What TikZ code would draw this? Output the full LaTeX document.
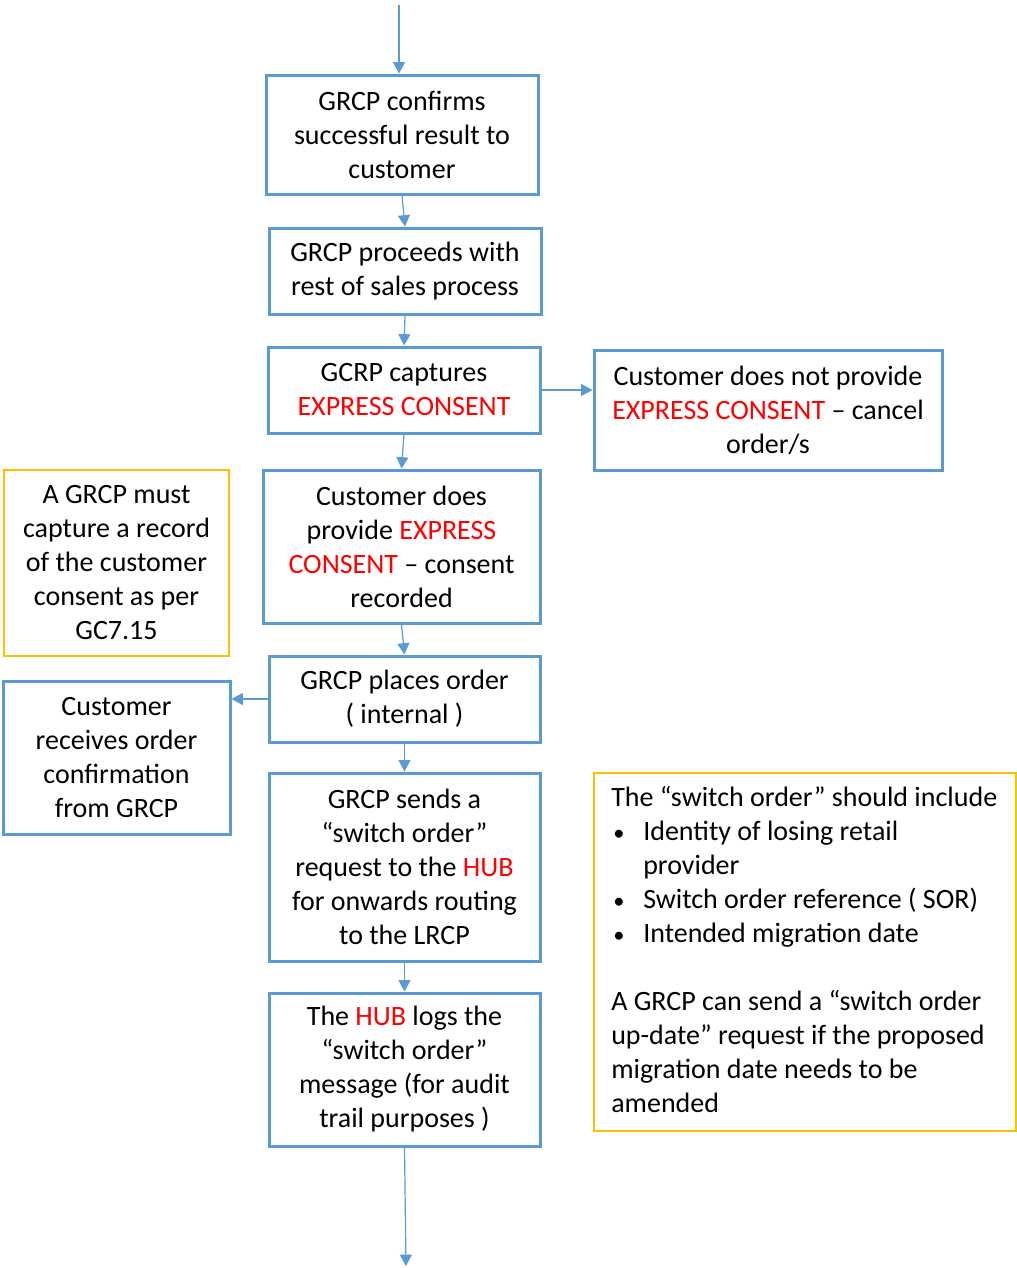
\documentclass[tikz,border=0pt]{standalone}
\usepackage{fontspec}
\setmainfont{Carlito}
\usetikzlibrary{arrows.meta}
\definecolor{flowblue}{HTML}{5B9BD5}
\definecolor{noteyellow}{HTML}{FFC000}
\definecolor{hilite}{HTML}{FF0000}
\newcommand{\hl}[1]{\textcolor{hilite}{#1}}
\newcommand{\blt}{\makebox[24pt][l]{\hspace{1.5pt}\scalebox{0.8}{•}}}
\tikzset{
  every node/.style={font=\fontsize{21}{25.5}\selectfont, inner sep=0pt, align=center},
  stepbox/.style={draw=flowblue, line width=2.25pt, rectangle},
  notebox/.style={draw=noteyellow, line width=1.1pt, rectangle},
  flow/.style={draw=flowblue, line width=0.9pt, -{Triangle[width=9pt,length=8.5pt]}}
}
\begin{document}
\begin{tikzpicture}[x=0.75pt, y=-0.75pt]
\useasboundingbox (0,0) rectangle (1017,1268);

% main column
\node[stepbox, minimum width=272*0.75pt, minimum height=119*0.75pt] (b1) at (402,134.5)
  {GRCP confirms\\successful result to\\customer};
\node[stepbox, minimum width=272*0.75pt, minimum height=86*0.75pt] (b2) at (405,271)
  {GRCP proceeds with\\rest of sales process};
\node[stepbox, minimum width=272*0.75pt, minimum height=86*0.75pt] (b3) at (404,390)
  {GCRP captures\\\hl{EXPRESS CONSENT}};
\node[stepbox, minimum width=277*0.75pt, minimum height=153*0.75pt] (b4) at (401.5,546.5)
  {Customer does\\provide \hl{EXPRESS}\\\hl{CONSENT} -- consent\\recorded};
\node[stepbox, minimum width=271*0.75pt, minimum height=86*0.75pt] (b5) at (404.5,699)
  {GRCP places order\\( internal )};
\node[stepbox, minimum width=271*0.75pt, minimum height=188*0.75pt] (b6) at (404.5,867)
  {GRCP sends a\\“switch order”\\request to the \hl{HUB}\\for onwards routing\\to the LRCP};
\node[stepbox, minimum width=271*0.75pt, minimum height=153*0.75pt] (b7) at (404.5,1069.5)
  {The \hl{HUB} logs the\\“switch order”\\message (for audit\\trail purposes )};

% side boxes
\node[stepbox, minimum width=348*0.75pt, minimum height=120*0.75pt] (nc) at (768,410)
  {Customer does not provide\\\hl{EXPRESS CONSENT} -- cancel\\order/s};
\node[notebox, minimum width=225*0.75pt, minimum height=186*0.75pt] (rec) at (116.5,563)
  {A GRCP must\\capture a record\\of the customer\\consent as per\\GC7.15};
\node[stepbox, minimum width=227*0.75pt, minimum height=153*0.75pt] (conf) at (116.5,757.5)
  {Customer\\receives order\\confirmation\\from GRCP};
\node[notebox, minimum width=422*0.75pt, minimum height=358*0.75pt] (inc) at (805,952) {};
\node[anchor=north west, align=left] (inctext) at (611,786)
  {The “switch order” should include\\
   \blt Identity of losing retail\\
   \hspace*{24pt}provider\\
   \blt Switch order reference ( SOR)\\
   \blt Intended migration date\\
   \mbox{}\\
   A GRCP can send a “switch order\\
   up-date” request if the proposed\\
   migration date needs to be\\
   amended};

% connectors
\coordinate (start) at (399,5);
\coordinate (finish) at (406,1266);
\draw[flow] (start) -- (start |- b1.north);
\draw[flow] (b1.south) -- (b2.north);
\draw[flow] (b2.south) -- (b3.north);
\draw[flow] (b3.east) -- (b3.east -| nc.west);
\draw[flow] (b3.south) -- (b4.north);
\draw[flow] (b4.south) -- (b5.north);
\draw[flow] (b5.west) -- (b5.west -| conf.east);
\draw[flow] (b5.south) -- (b6.north);
\draw[flow] (b6.south) -- (b7.north);
\draw[flow] (b7.south) -- (finish);
\end{tikzpicture}
\end{document}
